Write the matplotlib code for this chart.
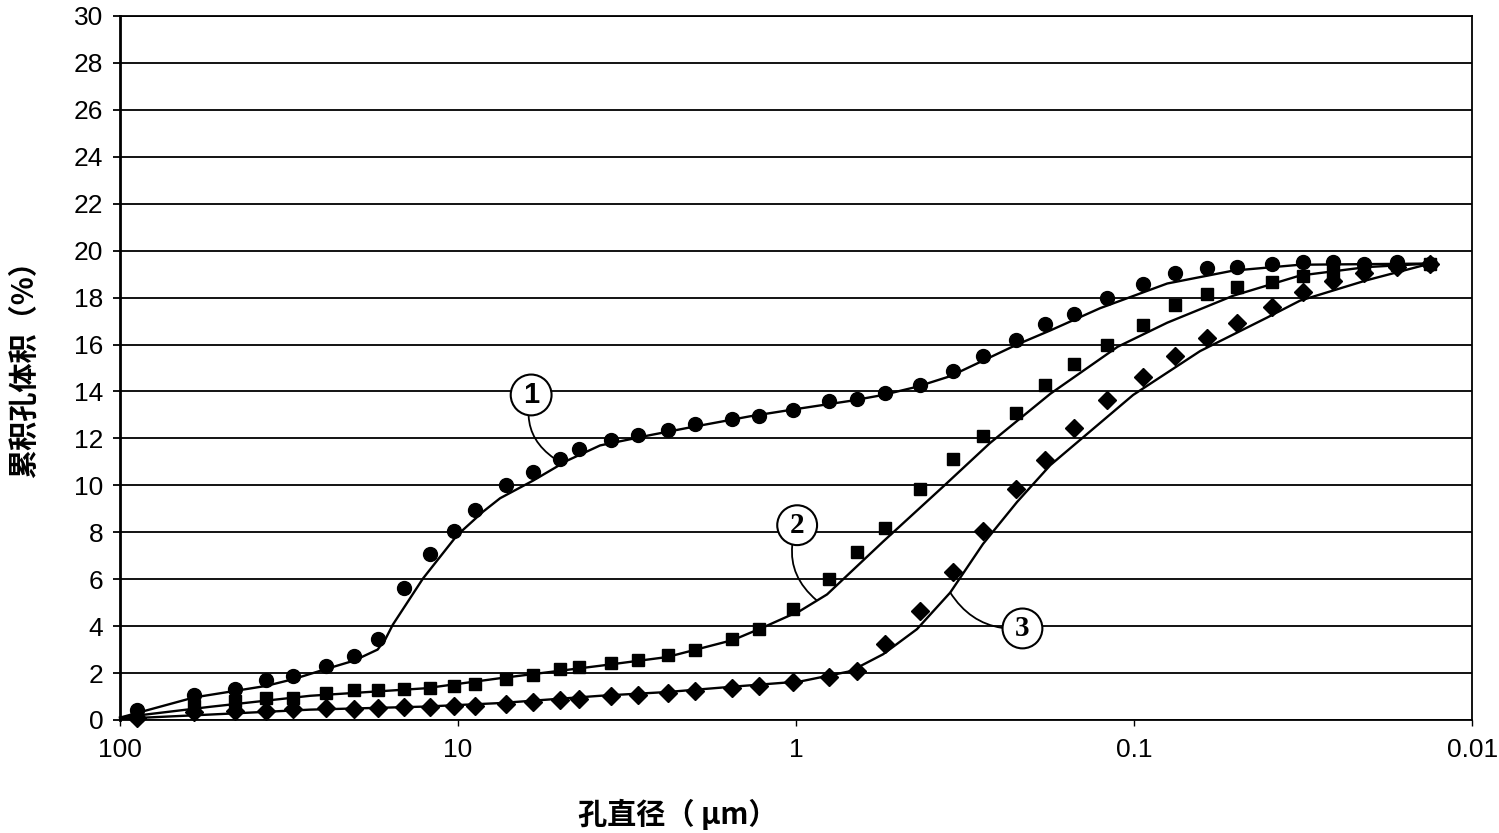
import matplotlib
matplotlib.use("Agg")
import matplotlib.pyplot as plt
from matplotlib.ticker import NullLocator, FixedLocator, FixedFormatter

# pore diameters of the measured points (um), shared by all three samples
promer = [89.1, 60.4, 45.7, 37.0, 30.7, 24.6, 20.3, 17.3, 14.5, 12.1,
          10.3, 8.9, 7.2, 6.0, 5.0, 4.4, 3.53, 2.93, 2.39, 1.99,
          1.55, 1.29, 1.02, 0.80, 0.66, 0.545, 0.43, 0.343, 0.28, 0.223,
          0.183, 0.151, 0.120, 0.094, 0.0756, 0.0608, 0.0495, 0.039, 0.0316, 0.0258,
          0.0209, 0.0167, 0.0133]

uzorak1 = [0.43, 1.07, 1.3, 1.7, 1.89, 2.32, 2.73, 3.44, 5.64, 7.06,
           8.04, 8.94, 10.0, 10.57, 11.14, 11.56, 11.91, 12.13, 12.35, 12.61,
           12.83, 12.96, 13.19, 13.58, 13.67, 13.93, 14.28, 14.88, 15.53, 16.18,
           16.86, 17.30, 17.99, 18.6, 19.05, 19.25, 19.3, 19.45, 19.5, 19.5,
           19.45, 19.5, 19.45]

uzorak2 = [0.2, 0.6, 0.8, 0.95, 0.95, 1.13, 1.28, 1.28, 1.32, 1.35,
           1.43, 1.53, 1.75, 1.93, 2.19, 2.26, 2.41, 2.55, 2.75, 3.0,
           3.44, 3.86, 4.75, 6.0, 7.14, 8.17, 9.85, 11.13, 12.1, 13.1,
           14.26, 15.17, 15.99, 16.85, 17.7, 18.14, 18.45, 18.66, 18.92, 19.1,
           19.27, 19.4, 19.45]

uzorak3 = [0.1, 0.35, 0.4, 0.4, 0.45, 0.5, 0.48, 0.52, 0.54, 0.54,
           0.58, 0.61, 0.68, 0.76, 0.84, 0.91, 1.02, 1.06, 1.15, 1.25,
           1.38, 1.45, 1.6, 1.82, 2.08, 3.23, 4.65, 6.3, 8.07, 9.83,
           11.06, 12.44, 13.64, 14.63, 15.49, 16.26, 16.91, 17.6, 18.24, 18.72,
           19.06, 19.3, 19.45]

# fitted curves
kriva1_x = [100, 60.4, 37.0, 30.7, 24.6, 20.3, 17.3, 16.4, 15.6, 12.7, 10.07,
            8.43, 7.51, 6.0, 4.76, 3.80, 2.70, 2.02, 1.37, 1.0, 0.69,
            0.553, 0.439, 0.35, 0.222, 0.177, 0.126, 0.0798, 0.0509, 0.0323, 0.0133]
kriva1_y = [0.1, 0.96, 1.45, 1.74, 2.17, 2.53, 3.0, 3.45, 4.06, 6.03, 7.87,
            8.88, 9.45, 10.2, 11.05, 11.7, 12.14, 12.49, 12.94, 13.25, 13.6,
            13.85, 14.2, 14.65, 16.0, 16.6, 17.55, 18.6, 19.15, 19.4, 19.45]

kriva2_x = [100, 54.2, 27.4, 12.5, 7.51, 3.80, 2.41, 1.535, 1.25, 0.973,
            0.81, 0.553, 0.367, 0.267, 0.177, 0.112, 0.0798, 0.0509, 0.0323, 0.0205,
            0.0133]
kriva2_y = [0.1, 0.56, 1.03, 1.35, 1.78, 2.31, 2.68, 3.41, 3.95, 4.65,
            5.35, 7.6, 9.95, 11.8, 13.9, 15.9, 16.93, 18.08, 18.94, 19.3,
            19.45]

kriva3_x = [100, 54.2, 27.4, 12.5, 7.51, 3.80, 2.41, 1.535, 0.973, 0.69,
            0.553, 0.439, 0.35, 0.28, 0.222, 0.177, 0.1007, 0.0638, 0.0404, 0.0323,
            0.0205, 0.0133]
kriva3_y = [0.05, 0.23, 0.44, 0.57, 0.72, 1.03, 1.19, 1.42, 1.64, 2.08,
            2.8, 3.87, 5.43, 7.5, 9.29, 10.86, 13.85, 15.72, 17.15, 17.87,
            18.74, 19.45]

x_oznake = ['100', '10', '1', '0.1', '0.01']
x_pozicije = [100, 10, 1, 0.1, 0.01]

cjk = ['Noto Sans CJK SC', 'DejaVu Sans']

fig = plt.figure(figsize=(14.99, 8.33), dpi=100)
ax = fig.add_axes([0.0801, 0.1357, 0.902, 0.8451])

ax.plot(kriva1_x, kriva1_y, color='black', lw=1.7, zorder=3, clip_on=False)
ax.plot(kriva2_x, kriva2_y, color='black', lw=1.7, zorder=3, clip_on=False)
ax.plot(kriva3_x, kriva3_y, color='black', lw=1.7, zorder=3, clip_on=False)

ax.plot(promer, uzorak1, 'o', color='black', ms=10, zorder=4, clip_on=False)
ax.plot(promer, uzorak2, 's', color='black', ms=9, zorder=4, clip_on=False)
ax.plot(promer, uzorak3, 'D', color='black', ms=9, zorder=4, clip_on=False)

ax.set_xscale('log')
ax.set_xlim(100, 0.01)
ax.set_ylim(0, 30)
ax.xaxis.set_major_locator(FixedLocator(x_pozicije))
ax.xaxis.set_major_formatter(FixedFormatter(x_oznake))
ax.xaxis.set_minor_locator(NullLocator())
ax.set_yticks(range(0, 31, 2))
ax.yaxis.grid(True, color='black', lw=1.3)
ax.set_axisbelow(True)

ax.tick_params(axis='y', direction='out', length=5, width=1.3, labelsize=19, pad=7)
ax.tick_params(axis='x', direction='out', length=4, width=1.0, labelsize=19, pad=9)
for t in ax.get_xticklabels() + ax.get_yticklabels():
    t.set_fontfamily('Liberation Sans')

for s in ax.spines.values():
    s.set_linewidth(1.3)
ax.spines['left'].set_linewidth(2.0)

fig.text(0.016, 0.565, '累积孔体积（%）', family=cjk, fontsize=21, fontweight='bold',
         rotation=90, ha='center', va='center')
fig.text(0.452, 0.004, '孔直径（ μm）', family=cjk, fontsize=21, fontweight='bold',
         ha='center', va='bottom')

krug = dict(boxstyle='circle,pad=0.22', fc='white', ec='black', lw=1.5)
strelica = dict(arrowstyle='-', color='black', lw=1.3, shrinkA=0, shrinkB=0)

ax.annotate('1', xy=(5.2, 11.15), xytext=(6.08, 13.85), fontsize=21, fontweight='bold',
            family='Liberation Sans', ha='center', va='center', bbox=krug, zorder=5,
            arrowprops=dict(strelica, connectionstyle='arc3,rad=0.35'))
ax.annotate('2', xy=(0.87, 5.1), xytext=(0.993, 8.3), fontsize=21, fontweight='bold',
            family='Liberation Serif', ha='center', va='center', bbox=krug, zorder=5,
            arrowprops=dict(strelica, connectionstyle='arc3,rad=0.35'))
ax.annotate('3', xy=(0.35, 5.43), xytext=(0.214, 3.9), fontsize=21, fontweight='bold',
            family='Liberation Serif', ha='center', va='center', bbox=krug, zorder=5,
            arrowprops=dict(strelica, connectionstyle='arc3,rad=-0.3'))

fig.savefig('out.png', dpi=100)
